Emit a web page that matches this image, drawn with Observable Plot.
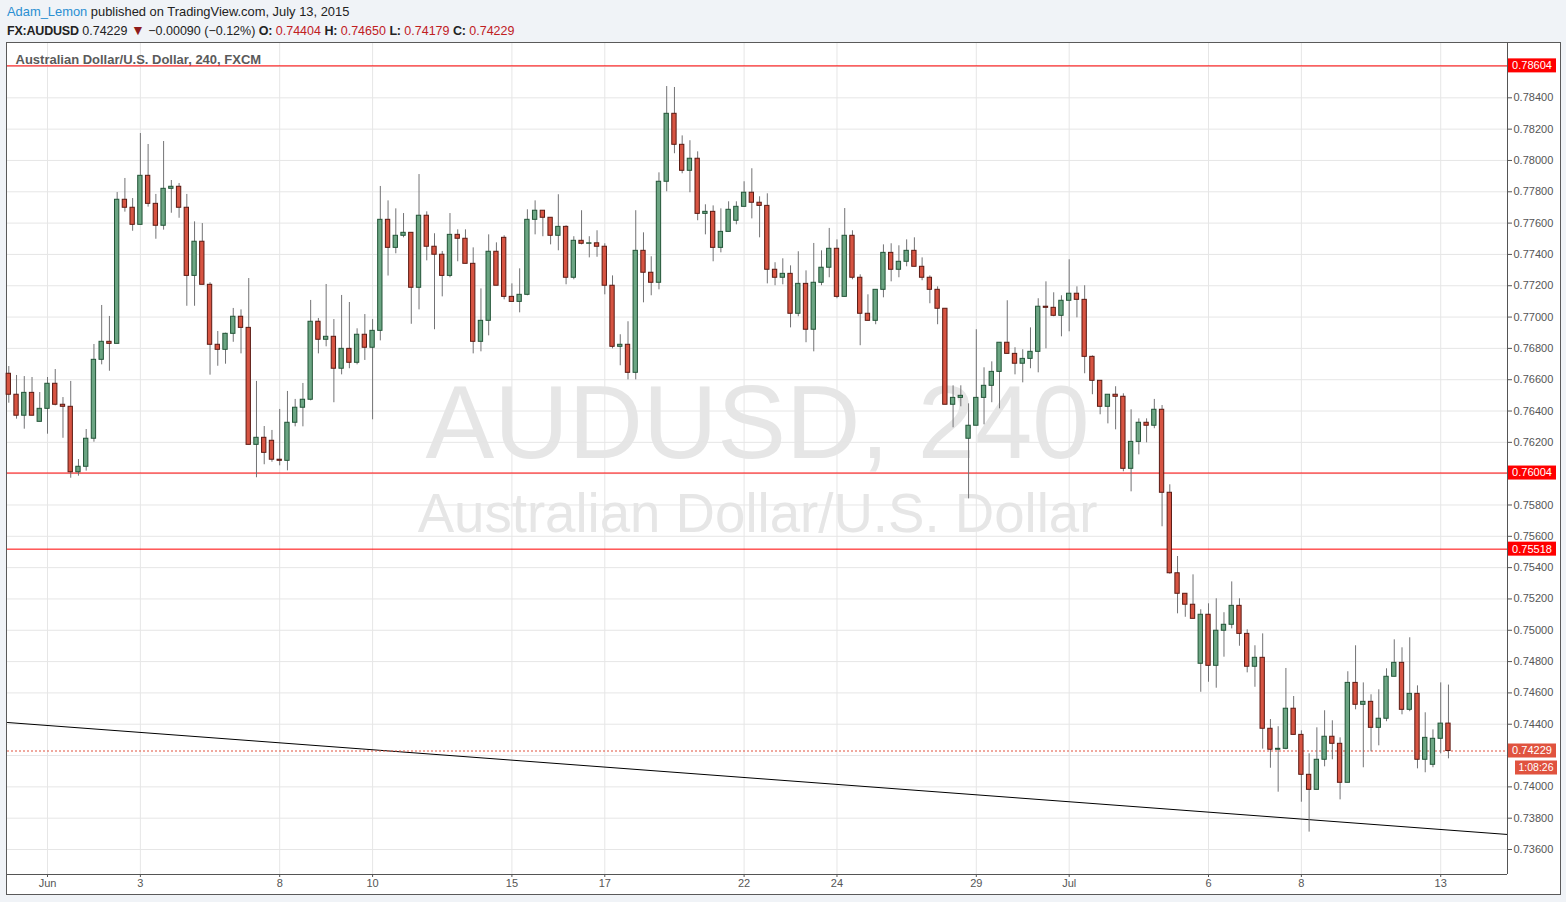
<!DOCTYPE html>
<html><head><meta charset="utf-8">
<script src="https://cdn.jsdelivr.net/npm/d3@7"></script>
<script src="https://cdn.jsdelivr.net/npm/@observablehq/plot@0.6"></script>
<style>
html,body{margin:0;padding:0}
body{background:#f0f3f7;width:1566px;height:902px;overflow:hidden;position:relative;font-family:"Liberation Sans",Arial,sans-serif;}
.hd{position:absolute;left:7px;line-height:16px;color:#222;white-space:nowrap}
#h1{top:4px;font-size:12.9px}
#h2{top:22px;font-size:12.5px}
#h2 b{letter-spacing:-0.2px}
.r{color:#c0201f}
.tri{color:#8e1b1b;font-size:14px}
#box{position:absolute;left:6px;top:42px;width:1555px;height:853px;background:#fff;border:1px solid #5a5a5a;box-sizing:border-box}
#chart{position:absolute;left:7px;top:43px}
</style></head>
<body>
<div id="h1" class="hd"><span style="color:#2a8fd2">Adam_Lemon</span> published on TradingView.com, July 13, 2015</div>
<div id="h2" class="hd"><b>FX:AUDUSD</b> 0.74229 <span class="tri">▼</span> −0.00090 (−0.12%) <b>O:</b> <span class="r">0.74404</span> <b>H:</b> <span class="r">0.74650</span> <b>L:</b> <span class="r">0.74179</span> <b>C:</b> <span class="r">0.74229</span></div>
<div id="box"></div>
<div id="chart"></div>
<script>
// ---- data (AUDUSD, 4h candles, FXCM) ----
const open = [
.76638,.76504,.76370,.76516,.76331,.76414,.76574,.76440,.76427,.76009,
.76044,.76223,.76727,.76842,.76829,.77749,.77698,.77589,.77902,.77723,
.77583,.77819,.77832,.77698,.77263,.77481,.77206,.76823,.76791,.76893,
.77002,.76931,.76184,.76229,.76210,.76089,.76082,.76325,.76421,.76472,
.76970,.76855,.76874,.76670,.76797,.76708,.76887,.76804,.76912,.77621,
.77442,.77519,.77538,.77187,.77647,.77449,.77398,.77263,.77525,.77500,
.77340,.76842,.76976,.77417,.77506,.77129,.77097,.77142,.77621,.77679,
.77634,.77519,.77576,.77251,.77487,.77468,.77471,.77449,.77200,.76810,
.76823,.76644,.77423,.77283,.77219,.77864,.78298,.78100,.77934,.78011,
.77659,.77672,.77442,.77544,.77615,.77704,.77794,.77730,.77710,.77302,
.77251,.77276,.77021,.77212,.76919,.77219,.77315,.77436,.77129,.77519,
.77251,.77021,.76976,.77174,.77410,.77302,.77353,.77423,.77321,.77251,
.77174,.77053,.76440,.76484,.76223,.76306,.76484,.76561,.76650,.76836,
.76765,.76702,.76733,.76778,.77066,.77059,.77008,.77104,.77149,.77110,
.76746,.76593,.76427,.76504,.76491,.76031,.76203,.76325,.76306,.76408,
.75878,.75364,.75233,.75163,.74786,.75099,.74773,.74997,.75035,.75156,
.74977,.74767,.74824,.74371,.74237,.74243,.74499,.74332,.74077,.73981,
.74173,.74320,.74275,.74026,.74664,.74524,.74543,.74377,.74435,.74703,
.74792,.74492,.74594,.74173,.74141,.74307,.74404];
const high = [
.76684,.76627,.76620,.76614,.76518,.76614,.76665,.76486,.76589,.76090,
.76282,.76825,.77074,.77004,.77795,.77885,.77757,.78172,.78102,.77783,
.78121,.77872,.77853,.77783,.77608,.77597,.77219,.76908,.76897,.77055,
.77046,.77246,.76589,.76301,.76276,.76410,.76525,.76474,.76576,.77106,
.76991,.77208,.76984,.77138,.77093,.76925,.77016,.76984,.77834,.77742,
.77691,.77661,.77538,.77910,.77672,.77532,.77419,.77661,.77557,.77557,
.77442,.77180,.77525,.77474,.77519,.77212,.77308,.77685,.77742,.77679,
.77634,.77781,.77583,.77513,.77679,.77513,.77551,.77468,.77263,.76887,
.76970,.77679,.77538,.77385,.77921,.78472,.78466,.78157,.78126,.78055,
.77717,.77710,.77691,.77736,.77736,.77864,.77947,.77768,.77787,.77347,
.77372,.77327,.77417,.77295,.77470,.77423,.77566,.77493,.77693,.77551,
.77270,.77142,.77174,.77461,.77468,.77455,.77493,.77506,.77378,.77263,
.77193,.77053,.76561,.76561,.76446,.76919,.76676,.76714,.76836,.77104,
.76804,.76791,.76931,.77117,.77225,.77155,.77136,.77366,.77193,.77200,
.76752,.76593,.76504,.76555,.76510,.76408,.76350,.76350,.76474,.76435,
.75929,.75471,.75233,.75354,.75131,.75169,.75201,.75112,.75309,.75201,
.75003,.74901,.74977,.74430,.74384,.74756,.74577,.74358,.74211,.74377,
.74486,.74422,.74313,.74735,.74901,.74664,.74588,.74620,.74754,.74939,
.74888,.74952,.74645,.74473,.74364,.74664,.74650];
const low = [
.76450,.76348,.76284,.76370,.76331,.76252,.76433,.76226,.75971,.75984,
.76016,.76201,.76695,.76654,.76829,.77670,.77548,.77589,.77702,.77497,
.77555,.77663,.77631,.77069,.77069,.77206,.76629,.76686,.76699,.76839,
.76765,.76184,.75974,.76057,.76073,.76050,.76018,.76299,.76299,.76465,
.76765,.76810,.76453,.76631,.76670,.76695,.76723,.76344,.76848,.77262,
.77404,.77506,.76954,.77046,.77359,.76919,.77129,.77251,.77353,.77340,
.76765,.76778,.76880,.77200,.77110,.77097,.77027,.77136,.77525,.77513,
.77461,.77423,.77206,.77238,.77461,.77378,.77382,.77142,.76797,.76689,
.76599,.76599,.77091,.77136,.77174,.77800,.78043,.77915,.77794,.77615,
.77525,.77353,.77410,.77544,.77589,.77704,.77627,.77506,.77212,.77200,
.77206,.76931,.77002,.76836,.76778,.77200,.77251,.77117,.77129,.77238,
.76817,.76976,.76951,.77123,.77225,.77251,.77321,.77321,.77232,.77085,
.76951,.76440,.76293,.76427,.75839,.76306,.76312,.76453,.76414,.76765,
.76631,.76580,.76670,.76644,.76797,.77002,.76874,.76906,.76995,.76638,
.76504,.76376,.76318,.76280,.76012,.75884,.76120,.76197,.76287,.75661,
.75358,.75105,.75083,.75073,.74604,.74668,.74630,.74828,.75009,.74898,
.74728,.74636,.74241,.74119,.73966,.74237,.74332,.73902,.73711,.73981,
.74128,.74173,.73917,.74026,.74492,.74122,.74224,.74262,.74416,.74703,
.74460,.74480,.74115,.74090,.74122,.74211,.74179];
const close = [
.76504,.76370,.76516,.76370,.76414,.76574,.76440,.76427,.76009,.76044,
.76223,.76727,.76842,.76829,.77749,.77698,.77589,.77902,.77723,.77583,
.77819,.77832,.77698,.77263,.77481,.77206,.76823,.76791,.76893,.77002,
.76931,.76184,.76229,.76133,.76089,.76082,.76325,.76421,.76472,.76970,
.76855,.76874,.76670,.76797,.76708,.76887,.76804,.76912,.77621,.77442,
.77519,.77538,.77187,.77647,.77449,.77398,.77263,.77525,.77500,.77340,
.76842,.76976,.77417,.77200,.77129,.77097,.77142,.77621,.77679,.77634,
.77519,.77576,.77251,.77487,.77468,.77471,.77449,.77200,.76810,.76823,
.76644,.77423,.77283,.77219,.77864,.78298,.78100,.77934,.78011,.77659,
.77672,.77442,.77544,.77685,.77704,.77794,.77730,.77710,.77302,.77251,
.77276,.77021,.77212,.76919,.77219,.77315,.77436,.77129,.77519,.77251,
.77021,.76976,.77174,.77410,.77302,.77353,.77423,.77321,.77251,.77174,
.77053,.76440,.76484,.76497,.76306,.76484,.76561,.76650,.76836,.76765,
.76702,.76733,.76778,.77066,.77059,.77008,.77104,.77149,.77110,.76746,
.76593,.76427,.76504,.76491,.76031,.76203,.76325,.76306,.76408,.75878,
.75364,.75233,.75163,.75073,.75099,.74773,.74997,.75035,.75156,.74977,
.74767,.74824,.74371,.74237,.74243,.74499,.74332,.74077,.73981,.74173,
.74320,.74275,.74026,.74664,.74524,.74543,.74377,.74435,.74703,.74792,
.74492,.74594,.74173,.74313,.74307,.74404,.74229];

const dayTickIdx    = [5, 17, 35, 47, 65, 77, 95, 107, 125, 137, 155, 167, 185];
const dayTickLabels = ["Jun","3","8","10","15","17","22","24","29","Jul","6","8","13"];
const priceTicks = [0.736,0.738,0.740,0.742,0.744,0.746,0.748,0.750,0.752,0.754,0.756,0.758,
  0.760,0.762,0.764,0.766,0.768,0.770,0.772,0.774,0.776,0.778,0.780,0.782,0.784,0.786];
// tick labels hidden behind price tags in the original
const hiddenTickLabels = [0.742, 0.760, 0.786];
const levelPrices = [0.78604, 0.76004, 0.75518];
const lastPrice = 0.74229;
const countdown = "1:08:26";
const trendIdx   = [-0.168, 193.63];
const trendPrice = [0.74411, 0.73696];

// ---- build ----
const candles = open.map((o, i) => ({i, o, h: high[i], l: low[i], c: close[i], up: close[i] >= o}));
const trend = trendIdx.map((x, k) => ({x, y: trendPrice[k]}));
const tickLabel = new Map(dayTickIdx.map((d, k) => [d, dayTickLabels[k]]));
const labelTicks = priceTicks.filter(t => !hiddenTickLabels.some(h => Math.abs(h - t) < 1e-9));
const xDomain = [-0.168, 193.63];
const yDomain = [0.734404, 0.787469];
const W = 1553, H = 851, MR = 53, MB = 20;

const plot = Plot.plot({
  width: W, height: H,
  marginLeft: 0, marginRight: MR, marginTop: 0, marginBottom: MB,
  x: {type: "linear", domain: xDomain},
  y: {type: "linear", domain: yDomain},
  style: {color: "#555", fontFamily: "'Liberation Sans', Arial, sans-serif", fontSize: "11px", background: "transparent", overflow: "visible"},
  marks: [
    Plot.text(["AUDUSD, 240"], {text: d => d, frameAnchor: "middle", dy: -34, fontSize: 103, fill: "#e6e6e6"}),
    Plot.text(["Australian Dollar/U.S. Dollar"], {text: d => d, frameAnchor: "middle", dy: 56, fontSize: 54.6, fill: "#e6e6e6"}),
    Plot.ruleY(priceTicks, {stroke: "#e6e6e6"}),
    Plot.ruleX(dayTickIdx, {stroke: "#e6e6e6"}),
    Plot.text(["Australian Dollar/U.S. Dollar, 240, FXCM"], {text: d => d, frameAnchor: "top-left", dx: 8, dy: 11, fontSize: 13, fontWeight: "bold", fill: "#5a5a5a"}),
    Plot.ruleY(levelPrices, {stroke: "#ff0000", strokeWidth: 1}),
    Plot.line(trend, {x: "x", y: "y", stroke: "#000", strokeWidth: 1}),
    Plot.ruleY([lastPrice], {stroke: "#e0533f", strokeDasharray: "2,2"}),
    Plot.ruleX(candles, {x: "i", y1: "l", y2: "h", stroke: "#737375", strokeWidth: 1}),
    Plot.rect(candles, {
      x1: d => d.i - 0.28, x2: d => d.i + 0.28, y1: "o", y2: "c",
      fill: d => d.up ? "#6ba583" : "#d75442",
      stroke: d => d.up ? "#225437" : "#5b1a13", strokeWidth: 1
    }),
    Plot.ruleY([yDomain[0]], {stroke: "#555"}),
    Plot.ruleX([xDomain[1]], {stroke: "#555"}),
    Plot.axisY(labelTicks, {anchor: "right", tickSize: 4, tickPadding: 2, tickFormat: d => d.toFixed(5), label: null, fontSize: 11}),
    Plot.axisX(dayTickIdx, {anchor: "bottom", tickSize: 3, tickPadding: 2, tickFormat: d => tickLabel.get(d), label: null, fontSize: 11})
  ]
});
document.getElementById("chart").appendChild(plot);

// price tags on the right axis
const ys = plot.scale("y");
const svg = d3.select(plot);
const x0 = W - MR + 1;
const tags = levelPrices.map(v => ({v, fill: "#ff0000", w: 48, text: v.toFixed(5)}));
tags.push({v: lastPrice, fill: "#e0533f", w: 48, text: lastPrice.toFixed(5)});
const g = svg.append("g");
tags.forEach(t => {
  const y = ys.apply(t.v);
  g.append("rect").attr("x", x0).attr("y", y - 7).attr("width", t.w).attr("height", 14).attr("fill", t.fill);
  g.append("text").attr("x", x0 + t.w / 2).attr("y", y).attr("dy", "0.36em").attr("text-anchor", "middle")
    .attr("fill", "#fff").attr("font-size", 11).text(t.text);
});
const yc = ys.apply(lastPrice) + 17;
g.append("rect").attr("x", x0 + 7).attr("y", yc - 7).attr("width", 42).attr("height", 14).attr("fill", "#e0533f");
g.append("text").attr("x", x0 + 28).attr("y", yc).attr("dy", "0.36em").attr("text-anchor", "middle")
  .attr("fill", "#fff").attr("font-size", 10.5).text(countdown);
</script>
</body></html>
